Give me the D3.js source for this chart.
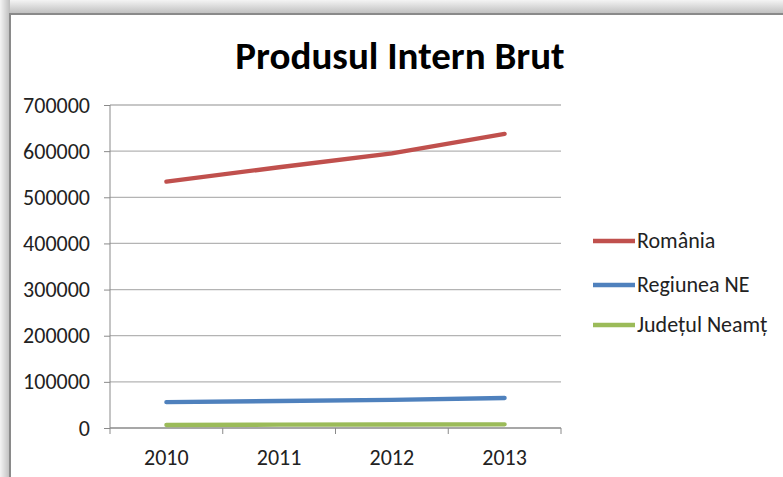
<!DOCTYPE html>
<html lang="ro">
  <head>
    <meta charset="utf-8" />
    <title>Produsul Intern Brut</title>
    <script src="https://d3js.org/d3.v7.min.js"></script>
    <style>
      body { margin: 0; background: #fff; }
      svg { display: block; }
    </style>
  </head>
  <body>
    <div class="chart"></div>
    <script>
      const w = 783;
      const h = 477;

      // data
      const years = ["2010", "2011", "2012", "2013"];
      const romania = [533881, 565097, 595367, 637456];
      const regiuneaNE = [56000, 58500, 61000, 65000];
      const judetulNeamt = [6500, 7200, 7600, 8000];
      const yTicks = [0, 100000, 200000, 300000, 400000, 500000, 600000, 700000];
      const seriesNames = ["România", "Regiunea NE", "Județul Neamț"];
      const seriesColors = ["#C0504D", "#4F81BD", "#9BBB59"];

      const series = [romania, regiuneaNE, judetulNeamt].map(function (v, i) {
        return { name: seriesNames[i], color: seriesColors[i], values: v };
      });

      const font = "Carlito, Lato, 'Open Sans', sans-serif";

      const svg = d3.select(".chart").append("svg")
        .attr("width", w).attr("height", h);

      // shadow around the frame
      const defs = svg.append("defs");
      const gTop = defs.append("linearGradient").attr("id", "gTop")
        .attr("x1", 0).attr("y1", 0).attr("x2", 0).attr("y2", 1);
      gTop.append("stop").attr("offset", "0%").attr("stop-color", "#f4f4f4");
      gTop.append("stop").attr("offset", "100%").attr("stop-color", "#bdbdbd");
      const gLeft = defs.append("linearGradient").attr("id", "gLeft")
        .attr("x1", 0).attr("y1", 0).attr("x2", 1).attr("y2", 0);
      gLeft.append("stop").attr("offset", "0%").attr("stop-color", "#f4f4f4");
      gLeft.append("stop").attr("offset", "100%").attr("stop-color", "#bdbdbd");

      svg.append("rect").attr("x", 0).attr("y", 0).attr("width", w).attr("height", 14)
        .attr("fill", "url(#gTop)");
      svg.append("rect").attr("x", 0).attr("y", 0).attr("width", 10).attr("height", h)
        .attr("fill", "url(#gLeft)");
      svg.append("rect").attr("x", 10).attr("y", 14).attr("width", w).attr("height", h)
        .attr("fill", "#fff").attr("stroke", "#8a8a8a").attr("stroke-width", 2);

      const x0 = 110, x1 = 561, yTop = 105, yBot = 428;

      const x = d3.scaleBand().domain(years).range([x0, x1]);
      const y = d3.scaleLinear().domain([0, 700000]).range([yBot, yTop]);

      // gridlines
      svg.append("g").selectAll("line")
        .data(yTicks.filter(function (d) { return d > 0; }))
        .join("line")
        .attr("x1", x0).attr("x2", x1)
        .attr("y1", function (d) { return y(d); })
        .attr("y2", function (d) { return y(d); })
        .attr("stroke", "#b4b4b4").attr("stroke-width", 1.3);

      // y axis
      const yAxis = svg.append("g")
        .attr("transform", `translate(${x0},0)`)
        .call(d3.axisLeft(y).tickValues(yTicks).tickSize(6).tickPadding(14)
          .tickFormat(d3.format("d")));
      yAxis.selectAll("line, path").attr("stroke", "#8a8a8a");
      yAxis.select("path").attr("d", `M0,${yTop}V${yBot}`);
      yAxis.selectAll("text")
        .style("font-family", font)
        .style("font-size", "22px").attr("fill", "#222");

      // x axis
      const xAxis = svg.append("g").attr("transform", `translate(0,${yBot})`);
      xAxis.append("line").attr("x1", x0).attr("x2", x1)
        .attr("stroke", "#8a8a8a").attr("stroke-width", 1.3);
      xAxis.selectAll(".tk")
        .data(years.map(function (d) { return x(d); }).concat([x1]))
        .join("line").attr("class", "tk")
        .attr("x1", function (d) { return d; }).attr("x2", function (d) { return d; })
        .attr("y1", 0).attr("y2", 6).attr("stroke", "#8a8a8a");
      xAxis.selectAll("text").data(years).join("text")
        .attr("x", function (d) { return x(d) + x.bandwidth() / 2; })
        .attr("y", 37)
        .attr("text-anchor", "middle")
        .style("font-family", font)
        .style("font-size", "22px").attr("fill", "#222")
        .text(function (d) { return d; });

      // lines
      const line = d3.line()
        .x(function (d, i) { return x(years[i]) + x.bandwidth() / 2; })
        .y(function (d) { return y(d); });

      svg.append("g").selectAll("path")
        .data(series.slice().reverse())
        .join("path")
        .attr("d", function (d) { return line(d.values); })
        .attr("fill", "none")
        .attr("stroke", function (d) { return d.color; })
        .attr("stroke-width", 4.3)
        .attr("stroke-linecap", "round");

      // title
      svg.append("text")
        .attr("x", 400).attr("y", 69)
        .attr("text-anchor", "middle")
        .style("font-family", font)
        .style("font-weight", "bold")
        .style("font-size", "39px")
        .attr("fill", "#000")
        .text("Produsul Intern Brut");

      // legend
      const legendY = [241, 285, 325];
      const legend = svg.append("g").selectAll("g").data(series).join("g")
        .attr("transform", function (d, i) { return `translate(593,${legendY[i]})`; });
      legend.append("line").attr("x1", 0).attr("x2", 42)
        .attr("stroke", function (d) { return d.color; }).attr("stroke-width", 4.3);
      legend.append("text").attr("x", 44).attr("y", 7)
        .style("font-family", font)
        .style("font-size", "22px").attr("fill", "#222")
        .text(function (d) { return d.name; });
    </script>
  </body>
</html>
